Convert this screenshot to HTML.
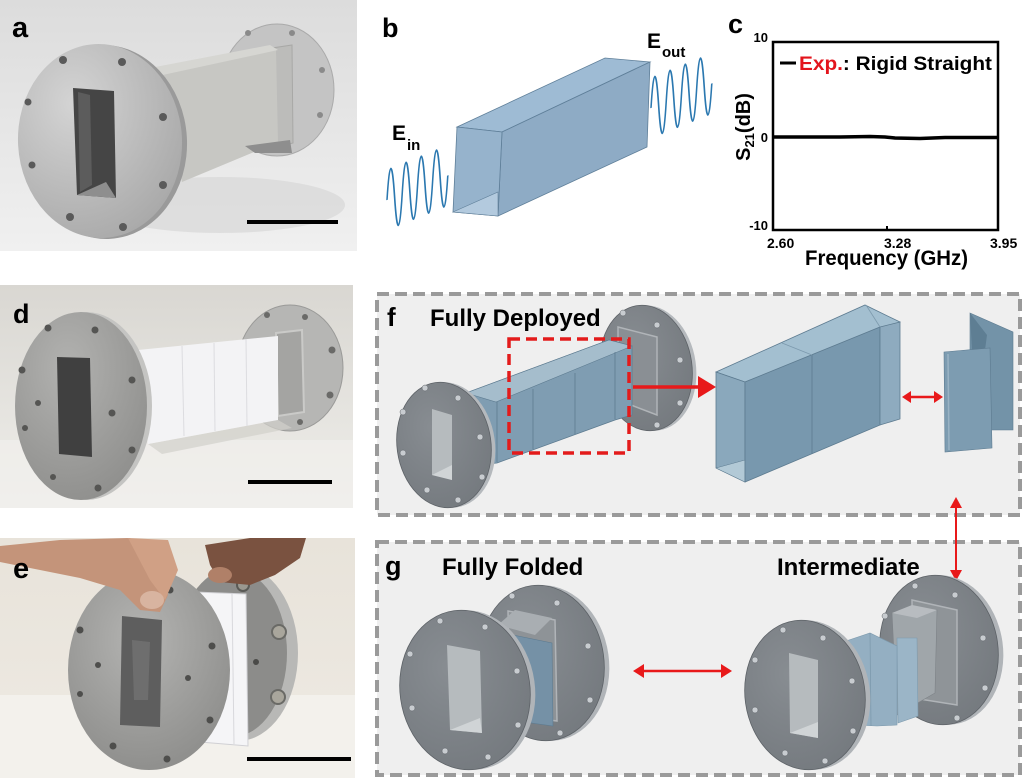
<!DOCTYPE html>
<html><head><meta charset="utf-8"><style>
html,body{margin:0;padding:0;background:#fff;}
svg{display:block;}
text{font-family:"Liberation Sans",Arial,sans-serif;font-weight:bold;}
</style></head><body>
<svg width="1024" height="778" viewBox="0 0 1024 778" xmlns="http://www.w3.org/2000/svg">
<defs>
<linearGradient id="bgA" x1="0" y1="0" x2="0" y2="1"><stop offset="0" stop-color="#dcdcdc"/><stop offset="1" stop-color="#f0f0f0"/></linearGradient>
<radialGradient id="flA" cx=".35" cy=".3" r=".85"><stop offset="0" stop-color="#d4d4d4"/><stop offset="1" stop-color="#a4a4a4"/></radialGradient>
<linearGradient id="bgD" x1="0" y1="0" x2="0" y2="1"><stop offset="0" stop-color="#d9d7d2"/><stop offset="1" stop-color="#efeeea"/></linearGradient>
<radialGradient id="flD" cx=".4" cy=".3" r=".85"><stop offset="0" stop-color="#b2b2b0"/><stop offset="1" stop-color="#8a8a88"/></radialGradient>
<linearGradient id="bgE" x1="0" y1="0" x2="0" y2="1"><stop offset="0" stop-color="#e8e3da"/><stop offset="1" stop-color="#eeeae3"/></linearGradient>
<radialGradient id="flE" cx=".45" cy=".35" r=".85"><stop offset="0" stop-color="#b4b4b2"/><stop offset="1" stop-color="#848482"/></radialGradient>
<radialGradient id="flC" cx=".4" cy=".35" r=".8"><stop offset="0" stop-color="#888d92"/><stop offset="1" stop-color="#72777c"/></radialGradient>
</defs>

<!-- ============ PANEL A PHOTO ============ -->
<rect x="0" y="0" width="357" height="251" fill="url(#bgA)"/>
<ellipse cx="220" cy="205" rx="125" ry="28" fill="#d4d4d4" opacity=".6"/>
<ellipse cx="277" cy="90" rx="57" ry="66" fill="#c4c4c4" stroke="#aaaaaa" stroke-width="1"/>
<circle cx="248" cy="33" r="3" fill="#8a8a8a"/><circle cx="292" cy="33" r="3" fill="#8a8a8a"/>
<circle cx="322" cy="70" r="3" fill="#8a8a8a"/><circle cx="320" cy="115" r="3" fill="#8a8a8a"/>
<polygon points="272,48 292,45 293,143 274,148" fill="#bcbcba" stroke="#a8a8a6" stroke-width="1"/>
<polygon points="158,72 276,50 278,142 182,182" fill="#c7c7c3"/>
<polygon points="150,68 270,45 278,50 158,76" fill="#d6d6d2"/>
<polygon points="245,146 290,140 292,153 255,153" fill="#8e8e8e"/>
<ellipse cx="105" cy="142" rx="82" ry="97" fill="#9a9a9a" transform="rotate(-3 105 142)"/>
<ellipse cx="100" cy="141" rx="82" ry="97" fill="url(#flA)" transform="rotate(-3 100 141)"/>
<polygon points="73,88 114,91 116,198 77,195" fill="#454545"/>
<polygon points="78,92 90,95 92,185 80,192" fill="#5c5c5c"/>
<polygon points="77,195 106,182 116,198" fill="#8e8e8e"/>
<g fill="#5a5a5a">
<circle cx="63" cy="60" r="4"/><circle cx="122" cy="62" r="4"/><circle cx="28" cy="102" r="3.5"/><circle cx="163" cy="117" r="4"/>
<circle cx="32" cy="165" r="3.5"/><circle cx="163" cy="185" r="4"/><circle cx="70" cy="217" r="4"/><circle cx="123" cy="227" r="4"/>
</g>
<rect x="247" y="220" width="91" height="4" fill="#000"/>
<text x="12" y="37" font-size="29">a</text>

<!-- ============ PANEL B ============ -->
<text x="382" y="37" font-size="27">b</text>
<polygon points="457,127 605,58 650,62 502,132" fill="#9ebbd4" stroke="#5f7f99" stroke-width=".8"/>
<polygon points="502,132 650,62 647,147 498,216" fill="#8eabc5" stroke="#5f7f99" stroke-width=".8"/>
<polygon points="457,127 502,132 498,216 453,212" fill="#96b3cc" stroke="#5f7f99" stroke-width=".8"/>
<polygon points="453,212 498,192 498,216" fill="#b3cade" stroke="#5f7f99" stroke-width=".6"/>
<path d="M0,0 Q3.8,-60 7.6,0 T15.2,0 T22.8,0 T30.4,0 T38,0 T45.6,0 T53.2,0 T60.8,0" fill="none" stroke="#2b78b0" stroke-width="1.6" transform="translate(387,200) skewY(-22)"/>
<path d="M0,0 Q3.8,-60 7.6,0 T15.2,0 T22.8,0 T30.4,0 T38,0 T45.6,0 T53.2,0 T60.8,0" fill="none" stroke="#2b78b0" stroke-width="1.6" transform="translate(651,108) skewY(-22)"/>
<text x="392" y="140" font-size="21">E</text><text x="407" y="150" font-size="15">in</text>
<text x="647" y="48" font-size="21">E</text><text x="662" y="57" font-size="15">out</text>

<!-- ============ PANEL C ============ -->
<text x="728" y="33" font-size="27">c</text>
<rect x="773" y="42" width="225" height="188" fill="none" stroke="#000" stroke-width="2.5"/>
<path d="M774,137 L840,137 L870,136.5 L885,137 L895,138 L920,138.5 L945,137.5 L997,137.5" fill="none" stroke="#000" stroke-width="3.5"/>
<line x1="887" y1="230" x2="887" y2="226" stroke="#000" stroke-width="2"/>
<text x="768" y="42" font-size="13" text-anchor="end">10</text>
<text x="768" y="142" font-size="13" text-anchor="end">0</text>
<text x="768" y="230" font-size="13" text-anchor="end">-10</text>
<line x1="780" y1="63" x2="796" y2="63" stroke="#000" stroke-width="3"/>
<text x="799" y="70" font-size="19" textLength="193" lengthAdjust="spacingAndGlyphs"><tspan fill="#e3141c">Exp.</tspan>: Rigid Straight</text>
<text transform="translate(750,127) rotate(-90)" text-anchor="middle" font-size="20">S<tspan font-size="13" dy="4">21</tspan><tspan dy="-4">(dB)</tspan></text>
<text x="767" y="248" font-size="14">2.60</text>
<text x="884" y="248" font-size="14">3.28</text>
<text x="990" y="248" font-size="14">3.95</text>
<text x="805" y="265" font-size="21" textLength="163" lengthAdjust="spacingAndGlyphs">Frequency (GHz)</text>

<!-- ============ PANEL D PHOTO ============ -->
<rect x="0" y="285" width="353" height="223" fill="url(#bgD)"/>
<rect x="0" y="440" width="353" height="68" fill="#f1f0ec" opacity=".7"/>
<ellipse cx="290" cy="368" rx="53" ry="63" fill="#b6b6b4" stroke="#9a9a98" stroke-width="1"/>
<g fill="#6a6a68"><circle cx="267" cy="315" r="3"/><circle cx="305" cy="317" r="3"/><circle cx="332" cy="350" r="3.5"/><circle cx="330" cy="395" r="3.5"/><circle cx="300" cy="422" r="3"/></g>
<polygon points="276,333 302,330 304,412 278,416" fill="#a4a4a2" stroke="#cacac8" stroke-width="2"/>
<polygon points="148,444 278,420 292,428 162,454" fill="#d2d0cb" opacity=".7"/>
<polygon points="138,350 278,336 278,420 148,444" fill="#f3f3f5"/>
<g stroke="#dcdce0" stroke-width="1"><line x1="182" y1="346" x2="184" y2="436"/><line x1="214" y1="343" x2="215" y2="431"/><line x1="246" y1="339" x2="247" y2="426"/></g>
<ellipse cx="86" cy="406" rx="66" ry="94" fill="#c4c4c2"/>
<ellipse cx="81" cy="406" rx="66" ry="94" fill="url(#flD)"/>
<polygon points="57,357 90,358 92,457 59,454" fill="#404040"/>
<g fill="#555553">
<circle cx="48" cy="328" r="3.5"/><circle cx="95" cy="330" r="3.5"/><circle cx="22" cy="370" r="3.5"/><circle cx="132" cy="380" r="3.5"/>
<circle cx="38" cy="403" r="3"/><circle cx="112" cy="413" r="3.5"/><circle cx="25" cy="428" r="3"/><circle cx="132" cy="450" r="3.5"/>
<circle cx="53" cy="477" r="3"/><circle cx="98" cy="488" r="3.5"/></g>
<rect x="248" y="480" width="84" height="4" fill="#000"/>
<text x="13" y="323" font-size="27">d</text>

<!-- ============ PANEL E PHOTO ============ -->
<rect x="0" y="538" width="355" height="240" fill="url(#bgE)"/>
<rect x="0" y="695" width="355" height="83" fill="#f3f1ec"/>
<ellipse cx="238" cy="653" rx="60" ry="88" fill="#b8b8b6"/>
<ellipse cx="232" cy="653" rx="55" ry="84" fill="#8c8c8a"/>
<circle cx="279" cy="632" r="7" fill="#a9a69c" stroke="#6a6a66" stroke-width="2"/>
<circle cx="278" cy="697" r="7" fill="#a9a69c" stroke="#6a6a66" stroke-width="2"/>
<circle cx="243" cy="585" r="6" fill="#9a9890" stroke="#5a5a56" stroke-width="2"/>
<circle cx="256" cy="662" r="3" fill="#4a4a48"/>
<polygon points="195,592 246,594 248,746 200,742" fill="#f5f5f7" stroke="#d0d0d4" stroke-width="1"/>
<line x1="232" y1="594" x2="234" y2="744" stroke="#d8d8dc"/>
<ellipse cx="149" cy="670" rx="81" ry="100" fill="url(#flE)"/>
<polygon points="122,616 162,620 160,727 120,725" fill="#5e5e5e"/>
<polygon points="132,640 150,642 148,700 134,700" fill="#7a7a7a" opacity=".6"/>
<g fill="#4e4e4c">
<circle cx="170" cy="590" r="3.5"/><circle cx="80" cy="630" r="3.5"/><circle cx="212" cy="646" r="3.5"/><circle cx="98" cy="665" r="3"/>
<circle cx="188" cy="678" r="3"/><circle cx="80" cy="694" r="3"/><circle cx="210" cy="720" r="3.5"/><circle cx="113" cy="746" r="3.5"/><circle cx="167" cy="759" r="3.5"/></g>
<path d="M0,546 L60,540 L130,538 L160,560 L168,595 L160,612 L140,610 L120,590 L80,578 L30,568 L0,562 Z" fill="#c4947a"/>
<path d="M128,538 L168,540 L178,570 L165,600 L150,580 Z" fill="#d0a085"/>
<ellipse cx="152" cy="600" rx="12" ry="9" fill="#d8b4a0"/>
<path d="M205,545 L250,538 L306,538 L300,558 L275,575 L250,585 L220,582 L210,565 Z" fill="#7a5240"/>
<ellipse cx="220" cy="575" rx="12" ry="8" fill="#b08068"/>
<rect x="247" y="757" width="104" height="4" fill="#000"/>
<text x="13" y="578" font-size="29">e</text>

<!-- ============ PANEL F ============ -->
<rect x="377" y="294" width="643" height="221" fill="#efefef" stroke="#9a9a9a" stroke-width="4" stroke-dasharray="12 6"/>
<text x="387" y="326" font-size="26">f</text>
<text x="430" y="326" font-size="24">Fully Deployed</text>
<!-- right flange -->
<ellipse cx="650" cy="368" rx="46" ry="63" fill="#b5b9bd" transform="rotate(-8 650 368)"/>
<ellipse cx="646" cy="368" rx="46" ry="63" fill="url(#flC)" stroke="#5d6267" stroke-width=".8" transform="rotate(-8 646 368)"/>
<polygon points="618,327 657,337 657,415 618,400" fill="#8a8f94" stroke="#b0b4b8" stroke-width="1.5"/>
<g fill="#c8ccd0" stroke="#5c6166" stroke-width=".5"><circle cx="623" cy="313" r="3"/><circle cx="657" cy="325" r="3"/><circle cx="680" cy="360" r="3"/><circle cx="680" cy="403" r="3"/><circle cx="657" cy="425" r="3"/></g>
<!-- body -->
<polygon points="466,393 609,340 632,346 632,415 615,420 497,463 478,465 470,450" fill="#7f9db2" stroke="#5d7b90" stroke-width=".8"/>
<polygon points="466,393 609,340 632,346 496,402" fill="#a5bdcc" stroke="#5d7b90" stroke-width=".6"/>
<g stroke="#5d7b90" stroke-width=".8"><line x1="497" y1="402" x2="497" y2="462"/><line x1="533" y1="389" x2="533" y2="449"/><line x1="575" y1="373" x2="575" y2="434"/><line x1="615" y1="352" x2="615" y2="419"/></g>
<!-- left flange -->
<ellipse cx="448" cy="445" rx="47" ry="63" fill="#b5b9bd" transform="rotate(-8 448 445)"/>
<ellipse cx="444" cy="445" rx="47" ry="63" fill="url(#flC)" stroke="#5d6267" stroke-width=".8" transform="rotate(-8 444 445)"/>
<polygon points="432,409 452,415 452,480 432,475" fill="#b6bbbe"/>
<polygon points="432,475 452,465 452,480" fill="#d0d4d6"/>
<g fill="#c8ccd0" stroke="#5c6166" stroke-width=".5"><circle cx="425" cy="388" r="3"/><circle cx="458" cy="398" r="3"/><circle cx="403" cy="412" r="3"/><circle cx="480" cy="437" r="3"/><circle cx="403" cy="453" r="3"/><circle cx="482" cy="477" r="3"/><circle cx="427" cy="490" r="3"/><circle cx="458" cy="500" r="3"/></g>
<rect x="509" y="339" width="120" height="114" fill="none" stroke="#e31b1b" stroke-width="3.5" stroke-dasharray="11 6"/>
<line x1="633" y1="387" x2="700" y2="387" stroke="#e8191a" stroke-width="3.5"/>
<polygon points="698,376 716,387 698,398" fill="#e8191a"/>
<!-- expanded box -->
<polygon points="716,372 865,305 900,322 745,382" fill="#a3bfd0" stroke="#5d7b90" stroke-width=".8"/>
<polygon points="716,372 745,382 745,482 716,468" fill="#8aa8bc" stroke="#5d7b90" stroke-width=".8"/>
<polygon points="716,468 745,460 745,482" fill="#b2c9d6" stroke="#5d7b90" stroke-width=".5"/>
<polygon points="745,382 880,327 880,425 745,482" fill="#7898ae" stroke="#5d7b90" stroke-width=".8"/>
<polygon points="880,327 900,322 900,419 880,425" fill="#8eabbf" stroke="#5d7b90" stroke-width=".8"/>
<line x1="812" y1="355" x2="812" y2="454" stroke="#5d7b90" stroke-width=".8"/>
<line x1="782" y1="343" x2="812" y2="355" stroke="#7d9aad" stroke-width=".8"/>
<line x1="866" y1="305" x2="880" y2="327" stroke="#7d9aad" stroke-width=".8"/>
<!-- double arrow -->
<line x1="908" y1="397" x2="937" y2="397" stroke="#e8191a" stroke-width="2.5"/>
<polygon points="902,397 911,391 911,403" fill="#e8191a"/><polygon points="943,397 934,391 934,403" fill="#e8191a"/>
<!-- small folded piece -->
<polygon points="970,313 1013,332 1013,430 985,430 985,350 970,352" fill="#7393a8" stroke="#5d7b90" stroke-width=".6"/>
<polygon points="970,313 987,335 985,350 972,352" fill="#5e7e93"/>
<polygon points="944,352 990,348 992,448 945,452" fill="#7d9cb1" stroke="#5d7b90" stroke-width=".6"/>
<line x1="948" y1="354" x2="949" y2="450" stroke="#9ab3c4" stroke-width="1.5"/>

<!-- vertical arrow between f and g -->
<line x1="956" y1="504" x2="956" y2="574" stroke="#e8191a" stroke-width="2"/>
<polygon points="956,497 950,508 962,508" fill="#e8191a"/>
<polygon points="956,581 950,570 962,570" fill="#e8191a"/>

<!-- ============ PANEL G ============ -->
<rect x="377" y="542" width="643" height="233" fill="#efefef" stroke="#9a9a9a" stroke-width="4" stroke-dasharray="12 6"/>
<line x1="956" y1="540" x2="956" y2="574" stroke="#e8191a" stroke-width="2"/>
<polygon points="956,581 950,570 962,570" fill="#e8191a"/>
<text x="385" y="575" font-size="27">g</text>
<text x="442" y="575" font-size="24">Fully Folded</text>
<text x="777" y="575" font-size="24">Intermediate</text>
<!-- folded: back flange -->
<ellipse cx="547" cy="663" rx="62" ry="78" fill="#b0b4b8" transform="rotate(-8 547 663)"/>
<ellipse cx="542" cy="663" rx="62" ry="78" fill="url(#flC)" stroke="#5d6267" stroke-width=".8" transform="rotate(-8 542 663)"/>
<polygon points="508,611 555,620 557,721 510,715" fill="#8e9397" stroke="#b0b4b8" stroke-width="1.5"/>
<polygon points="498,625 515,610 552,618 535,635" fill="#a9aeb2"/>
<polygon points="513,635 552,643 553,726 517,721" fill="#7591a6" stroke="#5d7b90" stroke-width=".6"/>
<g fill="#c8ccd0" stroke="#5c6166" stroke-width=".5"><circle cx="512" cy="596" r="3"/><circle cx="557" cy="603" r="3"/><circle cx="588" cy="646" r="3"/><circle cx="590" cy="700" r="3"/><circle cx="560" cy="733" r="3"/></g>
<!-- folded: front flange -->
<ellipse cx="470" cy="690" rx="65" ry="80" fill="#b0b4b8" transform="rotate(-8 470 690)"/>
<ellipse cx="465" cy="690" rx="65" ry="80" fill="url(#flC)" stroke="#5d6267" stroke-width=".8" transform="rotate(-8 465 690)"/>
<polygon points="447,645 480,651 482,733 450,730" fill="#b6bbbe"/>
<polygon points="450,730 480,718 482,733" fill="#d0d4d6"/>
<g fill="#c8ccd0" stroke="#5c6166" stroke-width=".5"><circle cx="440" cy="621" r="3"/><circle cx="485" cy="627" r="3"/><circle cx="410" cy="654" r="3"/><circle cx="517" cy="671" r="3"/><circle cx="412" cy="708" r="3"/><circle cx="518" cy="725" r="3"/><circle cx="445" cy="751" r="3"/><circle cx="488" cy="757" r="3"/></g>
<!-- horizontal double arrow -->
<line x1="641" y1="671" x2="724" y2="671" stroke="#e8191a" stroke-width="2.5"/>
<polygon points="633,671 644,664 644,678" fill="#e8191a"/><polygon points="732,671 721,664 721,678" fill="#e8191a"/>
<!-- intermediate: back flange -->
<ellipse cx="944" cy="650" rx="59" ry="75" fill="#b0b4b8" transform="rotate(-8 944 650)"/>
<ellipse cx="939" cy="650" rx="59" ry="75" fill="url(#flC)" stroke="#5d6267" stroke-width=".8" transform="rotate(-8 939 650)"/>
<polygon points="912,600 957,610 957,705 913,698" fill="#8f9498" stroke="#b0b4b8" stroke-width="1.5"/>
<g fill="#c8ccd0" stroke="#5c6166" stroke-width=".5"><circle cx="915" cy="586" r="3"/><circle cx="955" cy="595" r="3"/><circle cx="983" cy="638" r="3"/><circle cx="985" cy="688" r="3"/><circle cx="957" cy="718" r="3"/><circle cx="885" cy="616" r="3"/></g>
<polygon points="892,613 937,610 935,693 897,715" fill="#a0a6aa" stroke="#7d8287" stroke-width=".6"/>
<polygon points="892,613 912,605 937,610 917,618" fill="#b8bcc0"/>
<!-- intermediate: blue panels -->
<polygon points="897,638 917,638 918,716 898,723" fill="#9bb5c7" stroke="#7d9aad" stroke-width=".6"/>
<polygon points="840,643 870,633 897,646 897,725 877,726 855,725 840,718" fill="#94afc2" stroke="#7d9aad" stroke-width=".6"/>
<line x1="870" y1="633" x2="871" y2="726" stroke="#7d9aad" stroke-width=".8"/>
<!-- intermediate: front flange -->
<ellipse cx="810" cy="695" rx="60" ry="75" fill="#b0b4b8" transform="rotate(-8 810 695)"/>
<ellipse cx="805" cy="695" rx="60" ry="75" fill="url(#flC)" stroke="#5d6267" stroke-width=".8" transform="rotate(-8 805 695)"/>
<polygon points="789,653 818,660 818,738 790,733" fill="#b6bbbe"/>
<polygon points="790,733 818,722 818,738" fill="#d0d4d6"/>
<g fill="#c8ccd0" stroke="#5c6166" stroke-width=".5"><circle cx="783" cy="630" r="3"/><circle cx="823" cy="638" r="3"/><circle cx="755" cy="660" r="3"/><circle cx="852" cy="681" r="3"/><circle cx="755" cy="710" r="3"/><circle cx="853" cy="731" r="3"/><circle cx="785" cy="753" r="3"/><circle cx="825" cy="761" r="3"/></g>
</svg>
</body></html>
